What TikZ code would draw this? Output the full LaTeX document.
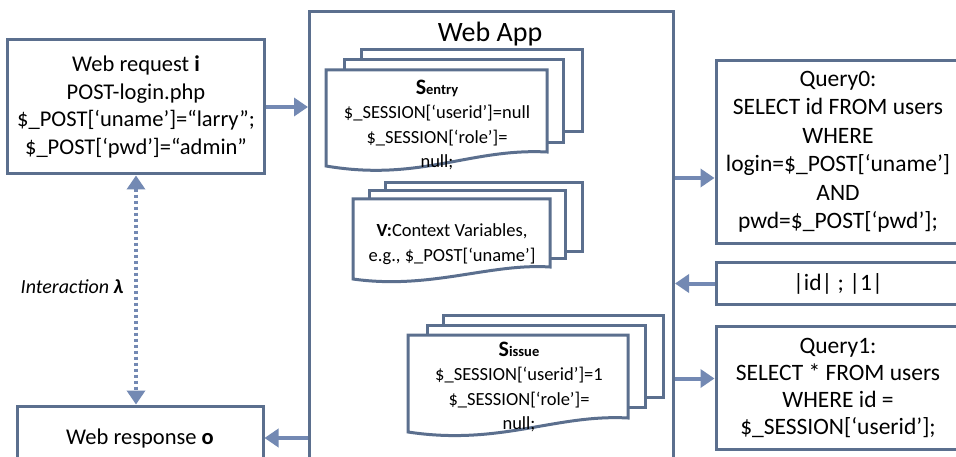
\documentclass[tikz,border=0pt]{standalone}
\usepackage{fontspec}
\setmainfont{Carlito}
\usetikzlibrary{arrows.meta}
\definecolor{edge}{HTML}{5B6F8E}
\definecolor{flow}{HTML}{7389B3}
\tikzset{
  box/.style={draw=edge, line width=3pt, fill=white, inner sep=0pt},
  big/.style={align=center, font=\fontsize{22.5}{27.5}\selectfont},
  query/.style={align=center, font=\fontsize{23.5}{28.5}\selectfont},
  small/.style={align=center, font=\fontsize{18.5}{24.5}\selectfont, inner sep=0pt},
  sheet/.style={draw=edge, line width=3pt, fill=white},
  arr/.style={draw=flow, line width=4pt, -{Triangle[length=14pt,width=18pt]}},
  dotarr/.style={draw=flow, line width=4pt, dash pattern=on 3pt off 3pt,
    {Triangle[length=14pt,width=18pt]}-{Triangle[length=14pt,width=18pt]}}
}
\newcommand\subttl[2]{{\fontsize{22}{24}\selectfont\bfseries #1}{\fontsize{14.5}{24}\selectfont\bfseries #2}}
\begin{document}
\begin{tikzpicture}[x=1pt,y=-1pt]
\useasboundingbox (0,0) rectangle (956,457);
\clip (0,0) rectangle (956,457);
\fill[white] (0,0) rectangle (956,457);

% web application frame
\node[box, minimum width=364pt, minimum height=470pt, anchor=north west] (app) at (308,10) {};
\node[font=\fontsize{28}{30}\selectfont, inner sep=0pt] (apptitle) at (490,34) {Web App};

% entry session state (stacked documents)
\draw[sheet] (361,50) rectangle (582,132);
\draw[sheet] (344,60) rectangle (563,143);
\draw[sheet] (326,70) -- (547,70) -- (547,152)
  .. controls (470,148) and (420,182) .. (326,166) -- cycle;
\node[small] (sentry) at (437,125) {\subttl{S}{entry}\\
  \$\_SESSION[‘userid’]=null\\ \$\_SESSION[‘role’]=\\ null;};

% context variables
\draw[sheet] (385,183) rectangle (582,252);
\draw[sheet] (369,191) rectangle (565,259);
\draw[sheet] (353,199) -- (550,199) -- (550,267)
  .. controls (490,263) and (430,290) .. (353,279) -- cycle;
\node[small] (vars) at (452,244) {\textbf{V:}Context Variables,\\ e.g., \$\_POST[‘uname’]};

% issued session state
\draw[sheet] (443,315) rectangle (663,397);
\draw[sheet] (427,325) rectangle (645,407);
\draw[sheet] (408,335) -- (628,335) -- (628,418)
  .. controls (555,414) and (500,446) .. (408,432) -- cycle;
\node[small] (sissue) at (519,387) {\subttl{S}{issue}\\
  \$\_SESSION[‘userid’]=1\\ \$\_SESSION[‘role’]=\\ null;};

% request and response
\node[box, big, minimum width=257pt, minimum height=134pt] (req) at (136,107)
  {Web request \textbf{i}\\ POST-login.php\\ \$\_POST[‘uname’]=“larry”;\\ \$\_POST[‘pwd’]=“admin”};
\node[box, big, minimum width=246pt, minimum height=64pt] (resp) at (140,438)
  {Web response \textbf{o}};

% database side
\node[box, query, minimum width=244pt, minimum height=183pt] (q0) at (838,152)
  {Query0:\\ SELECT id FROM users\\ WHERE\\ login=\$\_POST[‘uname’]\\ AND\\ pwd=\$\_POST[‘pwd’];};
\node[box, query, minimum width=244pt, minimum height=41pt] (res) at (838,283.5)
  {|id| ; |1|};
\node[box, query, font=\fontsize{23.5}{27}\selectfont,
  minimum width=244pt, minimum height=123pt] (q1) at (838,387.5)
  {Query1:\\ SELECT * FROM users\\ WHERE id =\\ \$\_SESSION[‘userid’];};

% connectors
\draw[arr] (req.east) -- (req.east -| app.west);
\draw[arr] ([yshift=-26pt]q0.west -| app.east) -- ([yshift=-26pt]q0.west);
\draw[arr] (res.west) -- (res.west -| app.east);
\draw[arr] ([yshift=9pt]q1.west -| app.east) -- ([yshift=9pt]q1.west);
\draw[arr] (resp.east -| app.west) -- (resp.east);
\draw[dotarr] (req.south) -- (req.south |- resp.north);
\node[font=\fontsize{20}{22}\selectfont\itshape, inner sep=0pt] (ilabel) at (72,287)
  {Interaction \textbf{λ}};
\end{tikzpicture}
\end{document}
